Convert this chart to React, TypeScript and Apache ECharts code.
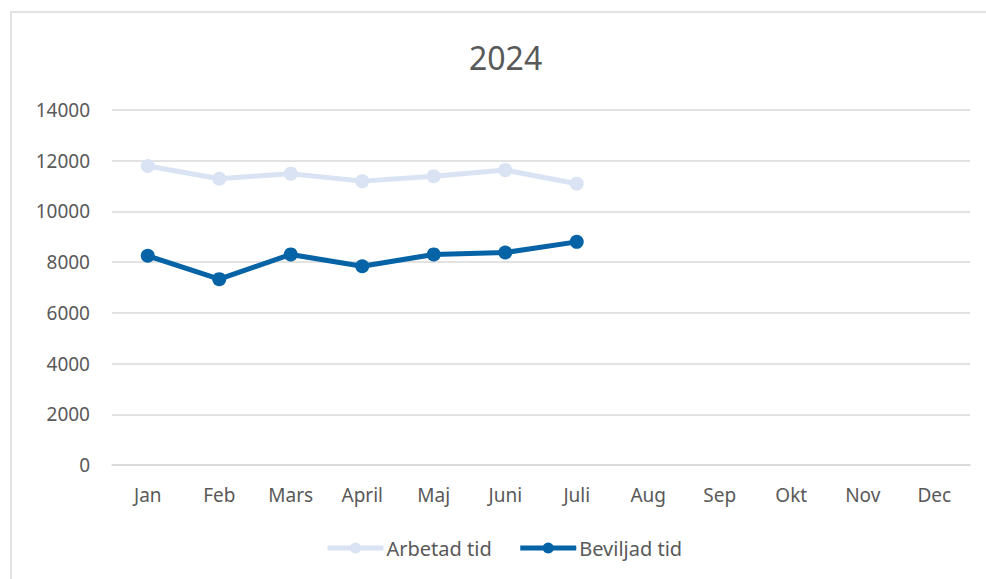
import React, { useEffect, useRef } from "react";
import * as echarts from "echarts";

const months = ["Jan", "Feb", "Mars", "April", "Maj", "Juni", "Juli", "Aug", "Sep", "Okt", "Nov", "Dec"];
const arbetadTid = [11790, 11290, 11490, 11195, 11390, 11630, 11090];
const beviljadTid = [8250, 7330, 8305, 7840, 8305, 8380, 8800];

const FONT = "'Noto Sans', sans-serif";

export default function App() {
  const ref = useRef<HTMLDivElement>(null);
  useEffect(() => {
    if (!ref.current) return;
    const chart = echarts.init(ref.current, undefined, { renderer: "svg" });
    chart.setOption({
      animation: false,
      backgroundColor: "#ffffff",
      textStyle: { fontFamily: FONT },
      graphic: [
        {
          type: "rect",
          shape: { x: 11, y: 12, width: 990, height: 580 },
          style: { fill: "none", stroke: "#d9d9d9", lineWidth: 1.5 },
          silent: true,
        },
      ],
      title: {
        text: "2024",
        left: 464,
        top: 36,
        textStyle: { fontSize: 32, fontWeight: "normal", color: "#595959", fontFamily: FONT },
      },
      legend: {
        bottom: 16,
        left: 320,
        itemWidth: 56,
        itemHeight: 14,
        itemGap: 26,
        lineStyle: { width: 5 },
        textStyle: { fontSize: 20, color: "#595959", fontFamily: FONT, padding: [0, 0, 0, -2] },
        data: ["Arbetad tid", "Beviljad tid"],
      },
      grid: { left: 112, right: 16, top: 110, bottom: 114, containLabel: false },
      xAxis: {
        type: "category",
        data: months,
        boundaryGap: true,
        axisLine: { show: true, lineStyle: { color: "#d9d9d9", width: 1.5 } },
        axisTick: { show: false },
        axisLabel: { color: "#595959", fontSize: 19, margin: 20, fontFamily: FONT },
      },
      yAxis: {
        type: "value",
        min: 0,
        max: 14000,
        interval: 2000,
        axisLine: { show: false },
        axisTick: { show: false },
        splitLine: { lineStyle: { color: "#d9d9d9", width: 1.5 } },
        axisLabel: {
          color: "#595959",
          fontSize: 19,
          margin: 22,
          fontFamily: FONT,
          formatter: (v: number) => String(v),
        },
      },
      series: [
        {
          name: "Arbetad tid",
          type: "line",
          data: arbetadTid,
          symbol: "circle",
          symbolSize: 14,
          lineStyle: { color: "#dae3f3", width: 5 },
          itemStyle: { color: "#dae3f3" },
        },
        {
          name: "Beviljad tid",
          type: "line",
          data: beviljadTid,
          symbol: "circle",
          symbolSize: 14,
          lineStyle: { color: "#0563a6", width: 5 },
          itemStyle: { color: "#0563a6" },
        },
      ],
    });
    return () => chart.dispose();
  }, []);
  return <div ref={ref} style={{ width: 986, height: 579, position: "absolute", left: 0, top: 0 }} />;
}
